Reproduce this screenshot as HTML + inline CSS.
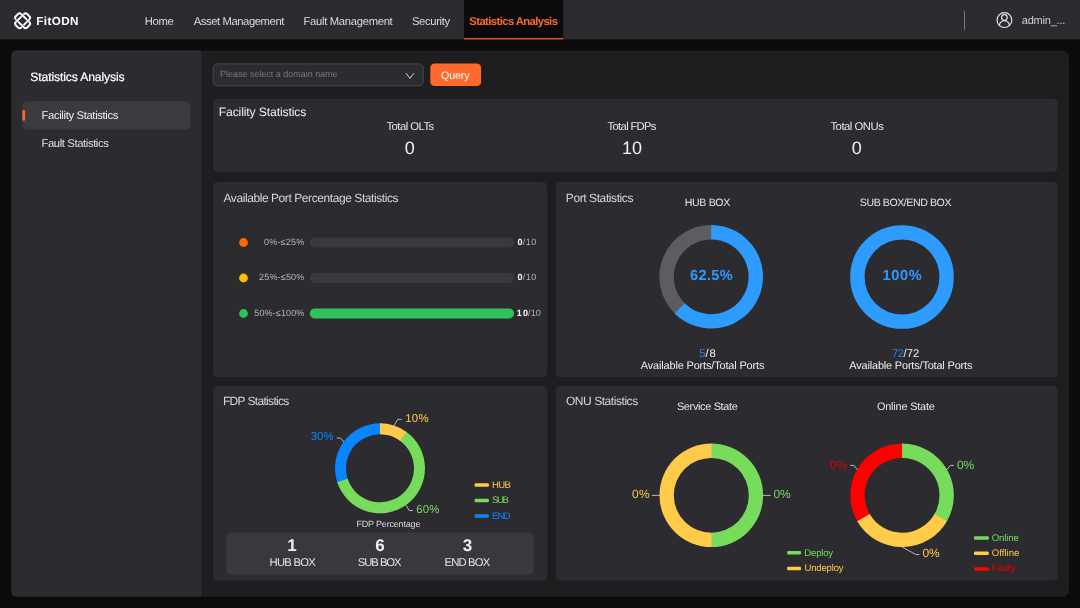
<!DOCTYPE html><html><head><meta charset="utf-8"><title>FitODN</title><style>
html,body{margin:0;padding:0;width:1080px;height:608px;overflow:hidden;background:#0b0b0b;}
body{position:relative;font-family:"Liberation Sans", sans-serif;}
.t{position:absolute;white-space:nowrap;line-height:20px;text-rendering:geometricPrecision;}
#tx{position:absolute;left:0;top:0;width:1080px;height:608px;will-change:transform;}
svg{position:absolute;left:0;top:0;overflow:visible;}
</style></head><body>
<svg width="1080" height="608" viewBox="0 0 1080 608">
<rect x="0" y="0" width="1080.00" height="39.40" rx="0" fill="#2c2b30" />
<rect x="464" y="0" width="99.10" height="39.40" rx="0" fill="#0b0b0b" />
<rect x="464" y="38.2" width="99.10" height="1.20" rx="0" fill="#ff6a2c" />
<rect x="964.1" y="10.7" width="0.70" height="19.10" rx="0" fill="#9a9a9c" />
<rect x="11.2" y="50.6" width="1057.80" height="546.20" rx="6.75" fill="#1e1e20" />
<path d="M16.2 50.6 H201.3 V596.8 H16.2 A5 5 0 0 1 11.2 591.8 V55.6 A5 5 0 0 1 16.2 50.6 Z" fill="#2c2b30"/>
<rect x="22.2" y="101.3" width="167.80" height="28.10" rx="4.5" fill="#3b3a3f" />
<rect x="22.4" y="110" width="2.70" height="10.80" rx="1.3" fill="#ff6a2c" />
<rect x="213.2" y="63.9" width="210.00" height="21.90" rx="4.2" fill="#2c2b30" stroke="#535258" stroke-width="0.8"/>
<rect x="430.3" y="63.6" width="50.80" height="22.50" rx="4.2" fill="#ff6a2c" />
<rect x="212.9" y="98.8" width="844.70" height="73.00" rx="4.5" fill="#2c2b30" />
<rect x="212.9" y="182" width="334.30" height="195.20" rx="4.5" fill="#2c2b30" />
<rect x="555.8" y="182" width="501.80" height="195.20" rx="4.5" fill="#2c2b30" />
<rect x="212.9" y="386" width="334.30" height="194.60" rx="4.5" fill="#2c2b30" />
<rect x="555.8" y="386" width="501.80" height="194.60" rx="4.5" fill="#2c2b30" />
<circle cx="243.5" cy="242.5" r="4.4" fill="#ff6a00"/>
<rect x="309.8" y="237.6" width="204.30" height="9.80" rx="4.9" fill="#3a393e" />
<circle cx="243.5" cy="278.0" r="4.4" fill="#ffbc00"/>
<rect x="309.8" y="273.1" width="204.30" height="9.80" rx="4.9" fill="#3a393e" />
<circle cx="243.5" cy="313.5" r="4.4" fill="#2dc25a"/>
<rect x="309.8" y="308.6" width="204.30" height="9.80" rx="4.9" fill="#3a393e" />
<rect x="309.8" y="308.6" width="204.30" height="9.80" rx="4.9" fill="#2dc25a" />
<rect x="226.5" y="532.4" width="307.00" height="42.40" rx="4.5" fill="#39383d" />
<g transform="translate(22.6 20.75) rotate(45)" fill="none"><g stroke="#fff" stroke-width="1.9"><rect x="-8.0" y="-3.8" width="16" height="7.6" rx="2.2"/><rect x="-3.8" y="-8.0" width="7.6" height="16" rx="2.2"/></g><g stroke="#2c2b30" stroke-width="0.5"><path d="M-5 -4.9H-2.5M-5 -2.6H-2.5"/><path d="M2.5 4.9H5M2.5 2.6H5"/><path d="M4.9 -5V-2.5M2.6 -5V-2.5"/><path d="M-4.9 2.5V5M-2.6 2.5V5"/></g></g>
<g fill="none" stroke="#e2e2e4" stroke-width="1.2"><circle cx="1004.4" cy="20.1" r="7.4"/><circle cx="1004.4" cy="17.5" r="2.8"/><path d="M999.4 25.7 A5 5 0 0 1 1009.4 25.7"/></g>
<path d="M405.8 73.1 L409.9 78.3 L414 73.1" fill="none" stroke="#d4d4d6" stroke-width="1"/>
<path d="M675.22 314.06A51.8 51.8 0 0 1 712.10 225.01L711.85 239.41A37.4 37.4 0 0 0 685.22 303.70Z" fill="#5c5d61"/><path d="M711.20 225.00A51.8 51.8 0 1 1 674.57 313.43L684.75 303.25A37.4 37.4 0 1 0 711.20 239.40Z" fill="#2e9bff"/>
<circle cx="902" cy="277" r="44.60" fill="none" stroke="#2e9bff" stroke-width="14.40"/>
<path d="M337.45 482.95A45 45 0 0 1 380.79 423.31L380.59 434.31A34 34 0 0 0 347.85 479.37Z" fill="#0a84ff"/><path d="M405.81 431.44A45 45 0 1 1 337.20 482.21L347.66 478.81A34 34 0 1 0 399.50 440.45Z" fill="#77db5c"/><path d="M380.00 423.30A45 45 0 0 1 406.45 431.89L399.98 440.79A34 34 0 0 0 380.00 434.30Z" fill="#ffcb49"/>
<path d="M712.30 547.09A51.8 51.8 0 1 1 712.30 443.51L712.05 457.91A37.4 37.4 0 1 0 712.05 532.69Z" fill="#ffcb49"/><path d="M711.40 443.50A51.8 51.8 0 0 1 711.40 547.10L711.40 532.70A37.4 37.4 0 0 0 711.40 457.90Z" fill="#77db5c"/>
<path d="M857.70 521.98A51.8 51.8 0 0 1 903.00 443.51L902.75 457.91A37.4 37.4 0 0 0 870.04 514.56Z" fill="#ff0000"/><path d="M947.41 520.41A51.8 51.8 0 0 1 857.24 521.20L869.71 514.00A37.4 37.4 0 0 0 934.81 513.43Z" fill="#ffcb49"/><path d="M902.10 443.50A51.8 51.8 0 0 1 946.96 521.20L934.49 514.00A37.4 37.4 0 0 0 902.10 457.90Z" fill="#77db5c"/>
<path d="M394.1 425.6 L397.7 419.3 L401.5 419.3" fill="none" stroke="#dcdcde" stroke-width="0.8" stroke-linejoin="round"/>
<path d="M336.8 438 L340.6 438 L343.8 442" fill="none" stroke="#dcdcde" stroke-width="0.8" stroke-linejoin="round"/>
<path d="M406 504.9 L409.1 510.5 L412.9 510.5" fill="none" stroke="#dcdcde" stroke-width="0.8" stroke-linejoin="round"/>
<path d="M651.9 495.4 L659.8 495.4" fill="none" stroke="#dcdcde" stroke-width="0.8" stroke-linejoin="round"/>
<path d="M763 495.4 L770.6 495.4" fill="none" stroke="#dcdcde" stroke-width="0.8" stroke-linejoin="round"/>
<path d="M850.3 465.4 L853.9 465.4 L857.4 469.8" fill="none" stroke="#dcdcde" stroke-width="0.8" stroke-linejoin="round"/>
<path d="M953.9 465.4 L950.3 465.4 L946.8 469.8" fill="none" stroke="#dcdcde" stroke-width="0.8" stroke-linejoin="round"/>
<path d="M902.1 547 L915.6 554.4 L919.3 554.4" fill="none" stroke="#dcdcde" stroke-width="0.8" stroke-linejoin="round"/>
<rect x="474.6" y="483.35" width="14.30" height="3.5" rx="1" fill="#ffcb49"/>
<rect x="474.6" y="498.85" width="14.30" height="3.5" rx="1" fill="#77db5c"/>
<rect x="474.6" y="514.35" width="14.30" height="3.5" rx="1" fill="#0a84ff"/>
<rect x="787.1" y="551.05" width="13.90" height="3.5" rx="1" fill="#77db5c"/>
<rect x="787.1" y="566.85" width="13.90" height="3.5" rx="1" fill="#ffcb49"/>
<rect x="974" y="536.15" width="14.80" height="3.5" rx="1" fill="#77db5c"/>
<rect x="974" y="551.55" width="14.80" height="3.5" rx="1" fill="#ffcb49"/>
<rect x="974" y="567.15" width="14.80" height="3.5" rx="1" fill="#ff0000"/>
</svg>
<div id="tx">
<span class="t" style="left:36.36px;top:12px;font-size:11.7px;color:#ffffff;font-weight:700;letter-spacing:0.355px;">FitODN</span>
<span class="t" style="left:144.66px;top:12px;font-size:11.25px;color:#dcdcde;font-weight:400;letter-spacing:-0.321px;">Home</span>
<span class="t" style="left:193.64px;top:12px;font-size:11.25px;color:#dcdcde;font-weight:400;letter-spacing:-0.410px;">Asset Management</span>
<span class="t" style="left:303.47px;top:12px;font-size:11.25px;color:#dcdcde;font-weight:400;letter-spacing:-0.302px;">Fault Management</span>
<span class="t" style="left:411.96px;top:12px;font-size:11.25px;color:#dcdcde;font-weight:400;letter-spacing:-0.365px;">Security</span>
<span class="t" style="left:469.37px;top:12px;font-size:11.25px;color:#ff6a2c;font-weight:700;letter-spacing:-0.581px;">Statistics Analysis</span>
<span class="t" style="left:1021.82px;top:11px;font-size:11px;color:#d0d0d2;font-weight:400;letter-spacing:-0.221px;">admin_...</span>
<span class="t" style="left:30.30px;top:67px;font-size:12.2px;color:#ffffff;font-weight:400;letter-spacing:-0.142px;-webkit-text-stroke:0.2px #fff;">Statistics Analysis</span>
<span class="t" style="left:41.48px;top:106px;font-size:11.25px;color:#f0f0f0;font-weight:400;letter-spacing:-0.343px;">Facility Statistics</span>
<span class="t" style="left:41.48px;top:134px;font-size:11.25px;color:#e0e0e0;font-weight:400;letter-spacing:-0.384px;">Fault Statistics</span>
<span class="t" style="left:220.12px;top:64px;font-size:9px;color:#77777c;font-weight:400;letter-spacing:-0.023px;">Please select a domain name</span>
<span class="t" style="left:441.03px;top:66px;font-size:10.7px;color:#ffffff;font-weight:400;letter-spacing:-0.145px;">Query</span>
<span class="t" style="left:218.70px;top:102px;font-size:12.2px;color:#f0f0f0;font-weight:400;letter-spacing:-0.133px;">Facility Statistics</span>
<span class="t" style="left:386.42px;top:117px;font-size:11.25px;color:#e6e6e6;font-weight:400;letter-spacing:-0.499px;">Total OLTs</span>
<span class="t" style="left:404.79px;top:138px;font-size:18px;color:#f0f0f0;font-weight:400;letter-spacing:0.000px;">0</span>
<span class="t" style="left:607.61px;top:117px;font-size:11.25px;color:#e6e6e6;font-weight:400;letter-spacing:-0.685px;">Total FDPs</span>
<span class="t" style="left:621.98px;top:138px;font-size:18px;color:#f0f0f0;font-weight:400;letter-spacing:0.145px;">10</span>
<span class="t" style="left:830.46px;top:117px;font-size:11.25px;color:#e6e6e6;font-weight:400;letter-spacing:-0.465px;">Total ONUs</span>
<span class="t" style="left:851.75px;top:138px;font-size:18px;color:#f0f0f0;font-weight:400;letter-spacing:0.000px;">0</span>
<span class="t" style="left:223.46px;top:188px;font-size:12px;color:#d6d6d9;font-weight:400;letter-spacing:-0.423px;">Available Port Percentage Statistics</span>
<span class="t" style="left:263.98px;top:232px;font-size:9px;color:#b4b4b8;font-weight:400;letter-spacing:0.201px;">0%-≤25%</span>
<span class="t" style="left:259.11px;top:267px;font-size:9px;color:#b4b4b8;font-weight:400;letter-spacing:0.164px;">25%-≤50%</span>
<span class="t" style="left:254.29px;top:303px;font-size:9px;color:#b4b4b8;font-weight:400;letter-spacing:0.133px;">50%-≤100%</span>
<span class="t" style="left:517.49px;top:232px;font-size:9px;color:#ffffff;font-weight:700;letter-spacing:0.000px;">0</span>
<span class="t" style="left:522.70px;top:232px;font-size:9px;color:#b4b4b8;font-weight:400;letter-spacing:0.490px;">/10</span>
<span class="t" style="left:517.49px;top:267px;font-size:9px;color:#ffffff;font-weight:700;letter-spacing:0.000px;">0</span>
<span class="t" style="left:522.70px;top:267px;font-size:9px;color:#b4b4b8;font-weight:400;letter-spacing:0.490px;">/10</span>
<span class="t" style="left:516.87px;top:303px;font-size:9px;color:#ffffff;font-weight:700;letter-spacing:1.202px;">10</span>
<span class="t" style="left:528.07px;top:303px;font-size:9px;color:#b4b4b8;font-weight:400;letter-spacing:0.153px;">/10</span>
<span class="t" style="left:565.85px;top:188px;font-size:12px;color:#d6d6d9;font-weight:400;letter-spacing:-0.415px;">Port Statistics</span>
<span class="t" style="left:684.75px;top:193px;font-size:10.6px;color:#e6e6e6;font-weight:400;letter-spacing:-0.358px;">HUB BOX</span>
<span class="t" style="left:859.81px;top:193px;font-size:10.6px;color:#e6e6e6;font-weight:400;letter-spacing:-0.433px;">SUB BOX/END BOX</span>
<span class="t" style="left:689.96px;top:266px;font-size:14.6px;color:#2e9bff;font-weight:700;letter-spacing:0.361px;">62.5%</span>
<span class="t" style="left:882.47px;top:266px;font-size:14.6px;color:#2e9bff;font-weight:700;letter-spacing:0.641px;">100%</span>
<span class="t" style="left:699.33px;top:344px;font-size:11.25px;color:#2f80e0;font-weight:400;letter-spacing:0.000px;">5</span>
<span class="t" style="left:705.49px;top:344px;font-size:11.25px;color:#f0f0f0;font-weight:400;letter-spacing:0.839px;">/8</span>
<span class="t" style="left:892.03px;top:344px;font-size:11.25px;color:#2f80e0;font-weight:400;letter-spacing:-0.625px;">72</span>
<span class="t" style="left:903.56px;top:344px;font-size:11.25px;color:#f0f0f0;font-weight:400;letter-spacing:0.006px;">/72</span>
<span class="t" style="left:640.85px;top:356px;font-size:10.9px;color:#f0f0f0;font-weight:400;letter-spacing:-0.132px;">Available Ports/Total Ports</span>
<span class="t" style="left:849.37px;top:356px;font-size:10.9px;color:#f0f0f0;font-weight:400;letter-spacing:-0.152px;">Available Ports/Total Ports</span>
<span class="t" style="left:222.96px;top:391px;font-size:12px;color:#d6d6d9;font-weight:400;letter-spacing:-0.670px;">FDP Statistics</span>
<span class="t" style="left:405.22px;top:409px;font-size:11.4px;color:#ffcb49;font-weight:400;letter-spacing:0.279px;">10%</span>
<span class="t" style="left:310.81px;top:427px;font-size:11.4px;color:#0a84ff;font-weight:400;letter-spacing:-0.018px;">30%</span>
<span class="t" style="left:416.22px;top:500px;font-size:11.4px;color:#77db5c;font-weight:400;letter-spacing:0.173px;">60%</span>
<span class="t" style="left:356.42px;top:514px;font-size:9px;color:#d8d8da;font-weight:400;letter-spacing:-0.182px;">FDP Percentage</span>
<span class="t" style="left:491.91px;top:476px;font-size:9.6px;color:#ffcb49;font-weight:400;letter-spacing:-0.692px;">HUB</span>
<span class="t" style="left:491.95px;top:491px;font-size:9.6px;color:#77db5c;font-weight:400;letter-spacing:-1.391px;">SUB</span>
<span class="t" style="left:491.91px;top:507px;font-size:9.6px;color:#0a84ff;font-weight:400;letter-spacing:-0.892px;">END</span>
<span class="t" style="left:287.19px;top:536px;font-size:17px;color:#f0f0f0;font-weight:700;letter-spacing:0.000px;">1</span>
<span class="t" style="left:375.23px;top:536px;font-size:17px;color:#f0f0f0;font-weight:700;letter-spacing:0.000px;">6</span>
<span class="t" style="left:462.84px;top:536px;font-size:17px;color:#f0f0f0;font-weight:700;letter-spacing:0.000px;">3</span>
<span class="t" style="left:269.55px;top:553px;font-size:11.25px;color:#e6e6e6;font-weight:400;letter-spacing:-0.727px;">HUB BOX</span>
<span class="t" style="left:357.74px;top:553px;font-size:11.25px;color:#e6e6e6;font-weight:400;letter-spacing:-1.026px;">SUB BOX</span>
<span class="t" style="left:444.47px;top:553px;font-size:11.25px;color:#e6e6e6;font-weight:400;letter-spacing:-0.820px;">END BOX</span>
<span class="t" style="left:565.97px;top:391px;font-size:12px;color:#d6d6d9;font-weight:400;letter-spacing:-0.447px;">ONU Statistics</span>
<span class="t" style="left:676.90px;top:397px;font-size:10.9px;color:#e6e6e6;font-weight:400;letter-spacing:-0.320px;">Service State</span>
<span class="t" style="left:876.96px;top:397px;font-size:10.9px;color:#e6e6e6;font-weight:400;letter-spacing:-0.190px;">Online State</span>
<span class="t" style="left:631.99px;top:484px;font-size:12px;color:#ffcb49;font-weight:400;letter-spacing:0.266px;">0%</span>
<span class="t" style="left:773.61px;top:484px;font-size:12px;color:#77db5c;font-weight:400;letter-spacing:-0.258px;">0%</span>
<span class="t" style="left:829.99px;top:455px;font-size:12px;color:#e00000;font-weight:400;letter-spacing:-0.267px;">0%</span>
<span class="t" style="left:956.99px;top:455px;font-size:12px;color:#77db5c;font-weight:400;letter-spacing:-0.267px;">0%</span>
<span class="t" style="left:922.42px;top:543px;font-size:12px;color:#ffcb49;font-weight:400;letter-spacing:-0.172px;">0%</span>
<span class="t" style="left:804.25px;top:544px;font-size:9.6px;color:#77db5c;font-weight:400;letter-spacing:-0.190px;">Deploy</span>
<span class="t" style="left:804.41px;top:559px;font-size:9.6px;color:#ffcb49;font-weight:400;letter-spacing:-0.187px;">Undeploy</span>
<span class="t" style="left:991.74px;top:529px;font-size:9.6px;color:#77db5c;font-weight:400;letter-spacing:-0.125px;">Online</span>
<span class="t" style="left:991.74px;top:544px;font-size:9.6px;color:#ffcb49;font-weight:400;letter-spacing:0.009px;">Offline</span>
<span class="t" style="left:991.53px;top:559px;font-size:9.6px;color:#e00000;font-weight:400;letter-spacing:-0.385px;">Faulty</span>
</div>
</body></html>
